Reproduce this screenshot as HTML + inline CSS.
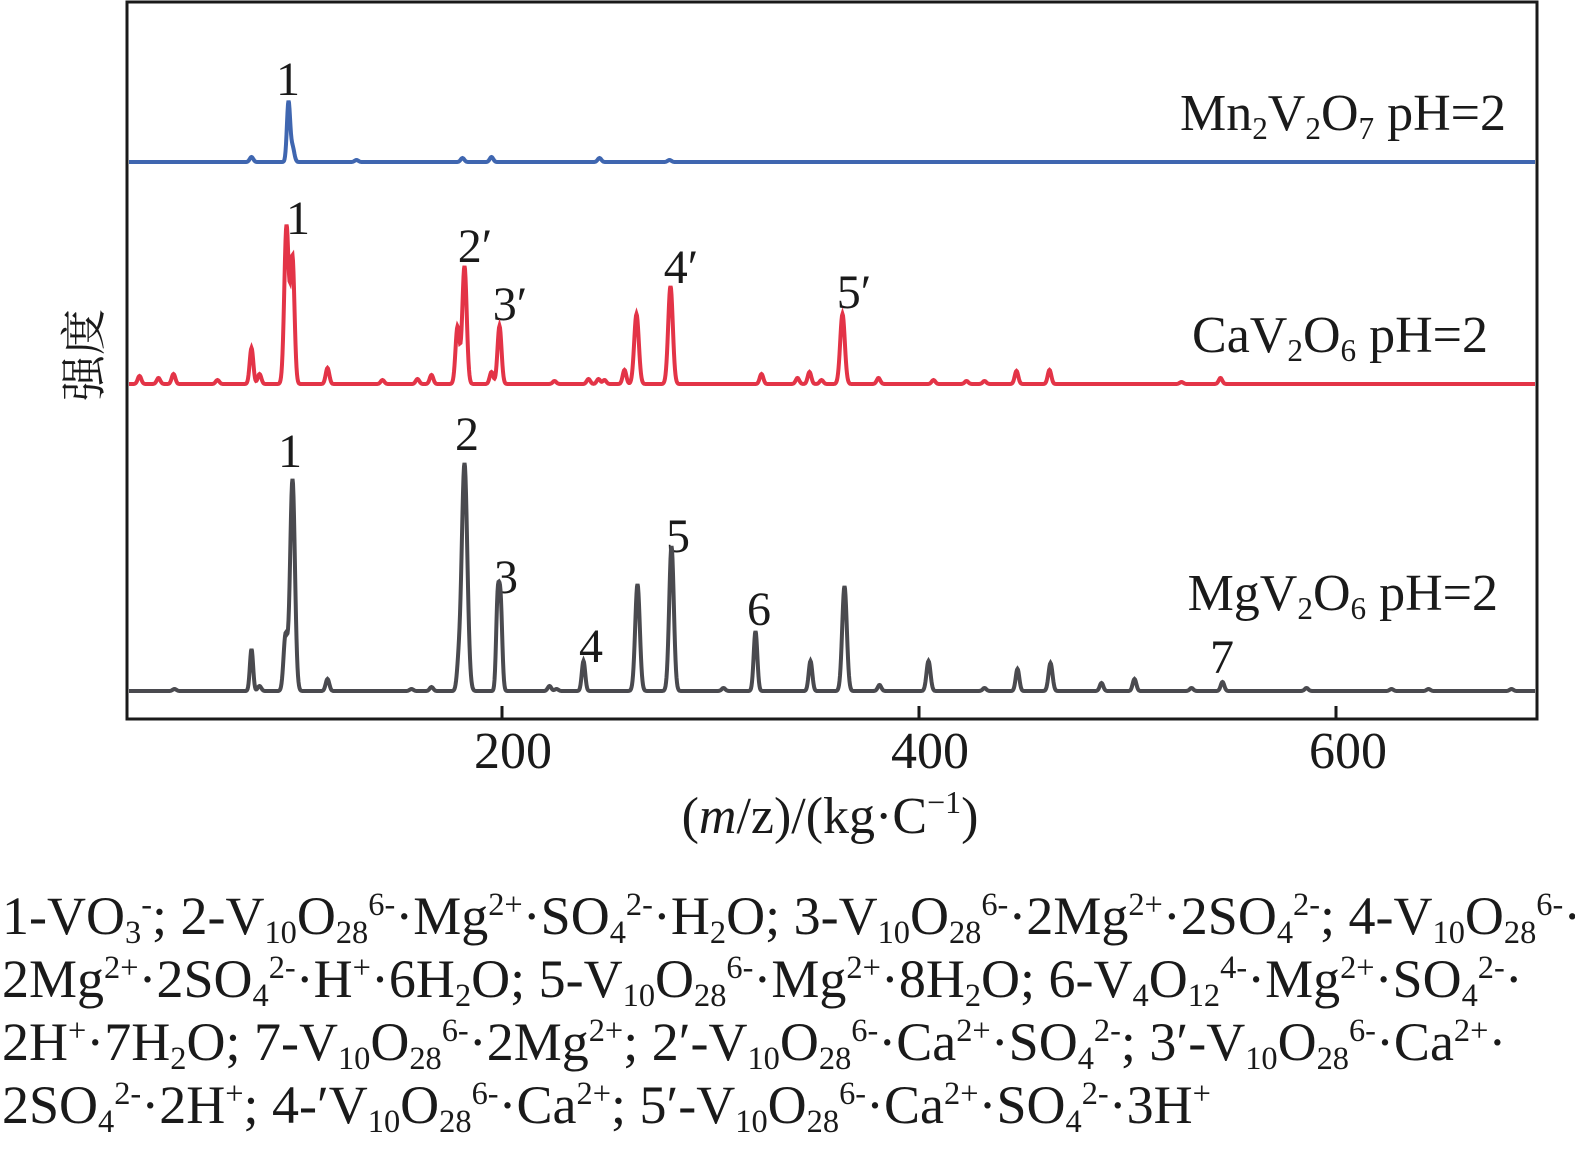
<!DOCTYPE html>
<html><head><meta charset="utf-8"><style>
body{margin:0;width:1575px;height:1163px;background:#fff;position:relative;overflow:hidden;font-family:"Liberation Serif","Noto Serif CJK SC",serif;color:#1a1a1a}
.t{position:absolute;white-space:nowrap;line-height:1}
.b{font-size:54px}
sub,sup{font-size:0.6em;line-height:0;position:relative;vertical-align:baseline}
sub{top:0.28em}
sup{top:-0.6em}
</style></head><body>
<svg id="s" width="1575" height="1163" style="position:absolute;left:0;top:0">
<rect x="127" y="2" width="1410" height="717" fill="none" stroke="#1a1a1a" stroke-width="3"/>
<g stroke="#1a1a1a" stroke-width="3">
<line x1="502" y1="719" x2="502" y2="706"/><line x1="919" y1="719" x2="919" y2="706"/><line x1="1336" y1="719" x2="1336" y2="706"/>
</g>
<g font-family="Liberation Serif" font-size="52" fill="#1a1a1a" text-anchor="middle">
<text x="513" y="768">200</text><text x="930" y="768">400</text><text x="1348" y="768">600</text>
<text x="830" y="833">(<tspan font-style="italic">m</tspan>/z)/(kg·C<tspan font-size="32" dy="-20">−1</tspan><tspan dy="20">)</tspan></text>
</g>
<text transform="translate(100,355) rotate(-90)" font-family="Noto Serif CJK SC,serif" font-size="46" text-anchor="middle" fill="#1a1a1a">强度</text>
<g font-family="Liberation Serif" font-size="48" fill="#1a1a1a" text-anchor="middle">
<text x="288" y="95">1</text>
<text x="298" y="234">1</text><text x="475" y="262">2′</text><text x="510" y="320">3′</text><text x="681" y="283">4′</text><text x="854" y="308">5′</text>
<text x="290" y="467">1</text><text x="467" y="450">2</text><text x="506" y="593">3</text><text x="591" y="662">4</text><text x="678" y="552">5</text><text x="759" y="625">6</text><text x="1222" y="673">7</text>
</g>
<path id="mn" fill="none" stroke="#3f66b0" stroke-width="4"/>
<path id="ca" fill="none" stroke="#e33447" stroke-width="4"/>
<path id="mg" fill="none" stroke="#4a4a4f" stroke-width="4"/>
</svg>
<div class="t" style="font-size:52px;right:69px;top:88px">Mn<sub>2</sub>V<sub>2</sub>O<sub>7</sub> pH=2</div>
<div class="t" style="font-size:52px;right:87px;top:310px">CaV<sub>2</sub>O<sub>6</sub> pH=2</div>
<div class="t" style="font-size:52px;right:77px;top:568px">MgV<sub>2</sub>O<sub>6</sub> pH=2</div>
<div class="t b" style="left:2px;top:889px">1-VO<sub>3</sub><sup>-</sup>; 2-V<sub>10</sub>O<sub>28</sub><sup>6-</sup>·Mg<sup>2+</sup>·SO<sub>4</sub><sup>2-</sup>·H<sub>2</sub>O; 3-V<sub>10</sub>O<sub>28</sub><sup>6-</sup>·2Mg<sup>2+</sup>·2SO<sub>4</sub><sup>2-</sup>; 4-V<sub>10</sub>O<sub>28</sub><sup>6-</sup>·</div>
<div class="t b" style="left:2px;top:952px">2Mg<sup>2+</sup>·2SO<sub>4</sub><sup>2-</sup>·H<sup>+</sup>·6H<sub>2</sub>O; 5-V<sub>10</sub>O<sub>28</sub><sup>6-</sup>·Mg<sup>2+</sup>·8H<sub>2</sub>O; 6-V<sub>4</sub>O<sub>12</sub><sup>4-</sup>·Mg<sup>2+</sup>·SO<sub>4</sub><sup>2-</sup>·</div>
<div class="t b" style="left:2px;top:1015px">2H<sup>+</sup>·7H<sub>2</sub>O; 7-V<sub>10</sub>O<sub>28</sub><sup>6-</sup>·2Mg<sup>2+</sup>; 2′-V<sub>10</sub>O<sub>28</sub><sup>6-</sup>·Ca<sup>2+</sup>·SO<sub>4</sub><sup>2-</sup>; 3′-V<sub>10</sub>O<sub>28</sub><sup>6-</sup>·Ca<sup>2+</sup>·</div>
<div class="t b" style="left:2px;top:1078px">2SO<sub>4</sub><sup>2-</sup>·2H<sup>+</sup>; 4-′V<sub>10</sub>O<sub>28</sub><sup>6-</sup>·Ca<sup>2+</sup>; 5′-V<sub>10</sub>O<sub>28</sub><sup>6-</sup>·Ca<sup>2+</sup>·SO<sub>4</sub><sup>2-</sup>·3H<sup>+</sup></div>
<script>
function build(id,base,peaks){
  var d="";
  for(var x=129;x<=1535;x+=0.5){
    var y=0;
    for(var i=0;i<peaks.length;i++){var p=peaks[i];var s=p[2]||(p[1]>50?2.6:1.8);var dx=x-p[0]-1.5;if(Math.abs(dx)<5*s)y+=p[1]*Math.exp(-dx*dx/(2*s*s));}
    d+=(d?"L":"M")+x+" "+(base-y).toFixed(1);
  }
  document.getElementById(id).setAttribute("d",d);
}
build("mn",162,[[250,5],[287,60,1.6],[291,15],[355,2],[461,4],[490,5],[598,4],[668,2]]);
build("ca",384,[[138,8],[157,6],[172,10],[216,4],[250,36],[258,10],[285,158,2.2],[291,125,2],[326,16],[381,4],[416,5],[430,9],[456,57,2],[463,118,2.2],[490,12],[498,58,2],[553,3],[587,5],[597,5],[603,4],[623,14],[635,70,2.3],[669,98,2.3],[760,10],[796,6],[808,12],[820,4],[841,70,2.3],[877,6],[932,4],[965,3],[983,3],[1015,13],[1048,14],[1180,2],[1219,6]]);
build("mg",691,[[173,2],[250,42,1.6],[258,5],[284,55,2],[291,212,2.4],[326,12],[410,2],[430,4],[457,20],[463,228,2.8],[496,80,1.5],[499,90,1.7],[548,5],[555,2],[582,30,1.7],[636,107,2.3],[670,145,2.3],[722,3],[754,60,1.8],[809,30,1.8],[843,105,2.3],[878,6],[927,30,2],[983,3],[1016,22],[1049,28,2],[1100,8],[1133,12],[1190,3],[1221,9],[1305,3],[1390,2],[1427,2],[1510,2]]);
</script>
</body></html>
